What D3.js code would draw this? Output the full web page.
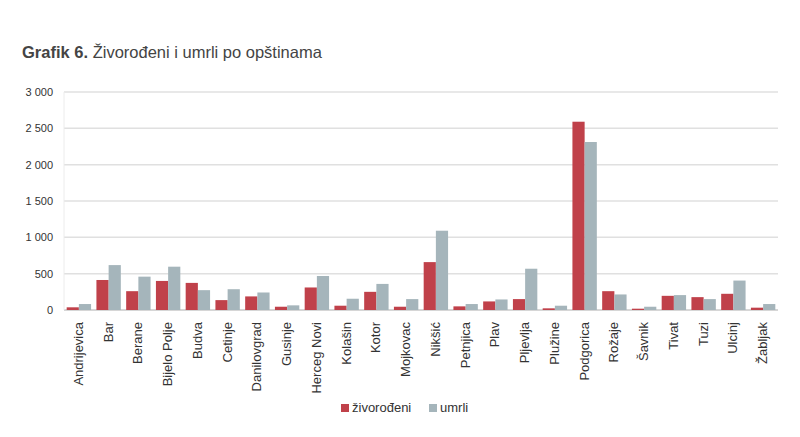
<!DOCTYPE html>
<html>
<head>
<meta charset="utf-8">
<script src="https://cdn.jsdelivr.net/npm/d3@7"></script>
<style>
  body { margin: 0; background: #fff; }
  svg { font-family: "Liberation Sans", Arial, sans-serif; }
</style>
</head>
<body>
<svg id="chart" width="800" height="437"></svg>
<script>
const opstine = ["Andrijevica", "Bar", "Berane", "Bijelo Polje", "Budva", "Cetinje", "Danilovgrad", "Gusinje",
    "Herceg Novi", "Kolašin", "Kotor", "Mojkovac", "Nikšić", "Petnjica", "Plav", "Pljevlja", "Plužine",
    "Podgorica", "Rožaje", "Šavnik", "Tivat", "Tuzi", "Ulcinj", "Žabljak"];
const zivorodjeni = [37, 413, 259, 400, 373, 136, 187, 45, 310, 59, 250, 45, 659, 50, 118, 150, 23, 2591, 259, 18, 195, 177, 223, 32];
const umrli = [82, 618, 459, 596, 273, 286, 241, 64, 468, 155, 359, 150, 1091, 82, 145, 568, 59, 2312, 214, 45, 205, 150, 405, 82];
const yTicks = [0, 500, 1000, 1500, 2000, 2500, 3000];
const series = ["živorođeni", "umrli"];
const colors = ["#c0414a", "#a5b5bb"];

const svg = d3.select("#chart");
const margin = {left: 64, right: 22, top: 92, bottom: 127};
const width = 800, height = 437;

// Title
const title = svg.append("text")
    .attr("x", 22)
    .attr("y", 58)
    .style("font-size", "16.5px")
    .attr("fill", "#444");
title.append("tspan").attr("font-weight", "bold").text("Grafik 6.");
title.append("tspan").text(" Živorođeni i umrli po opštinama");

const x = d3.scaleBand()
    .domain(opstine)
    .range([margin.left, width - margin.right])
    .paddingInner(0.18)
    .paddingOuter(0.09);

const xSub = d3.scaleBand()
    .domain(series)
    .range([0, x.bandwidth()]);

const y = d3.scaleLinear()
    .domain([0, 3000])
    .range([height - margin.bottom, margin.top]);

const fmt = d => d3.format(",")(d).replace(/,/g, " ");

// grid
svg.append("g")
    .selectAll("line")
    .data(yTicks)
    .enter()
    .append("line")
    .attr("x1", margin.left)
    .attr("x2", width - margin.right)
    .attr("y1", d => y(d))
    .attr("y2", d => y(d))
    .attr("stroke", d => d === 0 ? "#c8c8c8" : "#e0e0e0")
    .attr("stroke-width", 1.5);

svg.append("line")
    .attr("x1", margin.left).attr("x2", margin.left)
    .attr("y1", y(3000)).attr("y2", y(0))
    .attr("stroke", "#ececec");

// y axis labels
const yAxis = d3.axisLeft(y)
    .tickValues(yTicks)
    .tickFormat(fmt)
    .tickSize(0)
    .tickPadding(11);

svg.append("g")
    .attr("transform", `translate(${margin.left},0)`)
    .call(yAxis)
    .call(g => g.select(".domain").remove())
    .selectAll("text")
    .style("font-size", "11px")
    .style("font-family", "Liberation Sans, Arial, sans-serif")
    .attr("fill", "#333");

// bars
const rows = opstine.map((o, i) => ({opstina: o, values: [zivorodjeni[i], umrli[i]]}));

const groups = svg.append("g")
    .selectAll("g")
    .data(rows)
    .enter()
    .append("g")
    .attr("transform", d => `translate(${x(d.opstina)},0)`);

groups.selectAll("rect")
    .data(d => d.values.map((v, j) => ({key: series[j], value: v, j})))
    .enter()
    .append("rect")
    .attr("x", d => xSub(d.key))
    .attr("width", xSub.bandwidth())
    .attr("y", d => y(d.value))
    .attr("height", d => y(0) - y(d.value))
    .attr("fill", d => colors[d.j]);

// x labels
const xAxis = d3.axisBottom(x).tickSize(0).tickPadding(0);
svg.append("g")
    .attr("transform", `translate(0,${y(0)})`)
    .call(xAxis)
    .call(g => g.select(".domain").remove())
    .selectAll("text")
    .style("font-size", "13px")
    .style("font-family", "Liberation Sans, Arial, sans-serif")
    .attr("fill", "#333")
    .attr("text-anchor", "end")
    .attr("dy", null)
    .attr("y", 0)
    .attr("transform", "translate(4,12) rotate(-90)");

// legend
const legend = svg.append("g").attr("transform", "translate(341,404)");
const lx = [0, 88];
series.forEach((s, i) => {
    const g = legend.append("g").attr("transform", `translate(${lx[i]},0)`);
    g.append("rect").attr("width", 8).attr("height", 8).attr("fill", colors[i]);
    g.append("text")
        .attr("x", 11)
        .attr("y", 8)
        .style("font-size", "13px")
        .attr("fill", "#333")
        .text(s);
});
</script>
</body>
</html>
